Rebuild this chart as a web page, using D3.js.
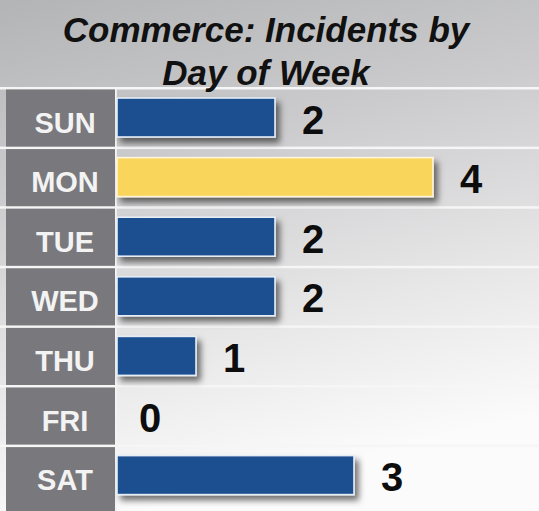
<!DOCTYPE html>
<html>
<head>
<meta charset="utf-8">
<script src="https://cdn.jsdelivr.net/npm/d3@7"></script>
<style>
  html, body { margin: 0; padding: 0; background: #ffffff; }
  svg { display: block; }
</style>
</head>
<body>
<script>
const days = ["SUN", "MON", "TUE", "WED", "THU", "FRI", "SAT"];
const incidents = [2, 4, 2, 2, 1, 0, 3];
const highlightDay = "MON";
const titleLines = ["Commerce: Incidents by", "Day of Week"];

const W = 539, H = 511;
const svg = d3.select("body").append("svg").attr("width", W).attr("height", H);
const defs = svg.append("defs");

const bg = defs.append("linearGradient").attr("id", "bg")
  .attr("x1", "0").attr("y1", "0").attr("x2", "0.25").attr("y2", "1");
bg.append("stop").attr("offset", "0%").attr("stop-color", "#b3b4b6");
bg.append("stop").attr("offset", "35%").attr("stop-color", "#cbcbcd");
bg.append("stop").attr("offset", "70%").attr("stop-color", "#e6e6e7");
bg.append("stop").attr("offset", "100%").attr("stop-color", "#fbfbfb");

const sh = defs.append("filter").attr("id", "shadow")
  .attr("x", "-10%").attr("y", "-30%").attr("width", "130%").attr("height", "190%");
sh.append("feDropShadow").attr("dx", 4).attr("dy", 5).attr("stdDeviation", 3)
  .attr("flood-color", "#000").attr("flood-opacity", 0.55);

svg.append("rect").attr("width", W).attr("height", H).attr("fill", "url(#bg)");

// Scales
const y = d3.scaleBand().domain(days).range([89, 89 + 7 * 59.6]).paddingInner(0).paddingOuter(0);
const x = d3.scaleLinear().domain([0, 4]).range([117, 433]);

const rowTop = d => y(d);
const rowH = y.bandwidth();

// row separators (white lines)
svg.append("g").selectAll("rect").data(days).join("rect")
  .attr("x", 0).attr("y", d => rowTop(d) - 2).attr("width", W).attr("height", 2.5)
  .attr("fill", "#f6f6f6");

// label boxes
svg.append("g").selectAll("rect").data(days).join("rect")
  .attr("x", 6).attr("y", d => rowTop(d) + 0.5)
  .attr("width", 109)
  .attr("height", (d, i) => i === days.length - 1 ? H - rowTop(d) : rowH - 2.5)
  .attr("fill", "#79797d");

// vertical separator line between labels and bars
svg.append("rect").attr("x", 115).attr("y", 87).attr("width", 1.8).attr("height", H - 87)
  .attr("fill", "#f4f4f4");

// Title
svg.append("g").selectAll("text").data(titleLines).join("text")
  .attr("x", 266).attr("y", (d, i) => 42 + i * 43)
  .attr("text-anchor", "middle")
  .attr("font-family", "'Liberation Sans', Arial, sans-serif")
  .attr("font-weight", "bold").attr("font-style", "italic")
  .attr("font-size", 35).attr("fill", "#111")
  .text(d => d);

svg.append("g").selectAll("text").data(days).join("text")
  .attr("x", 65).attr("y", d => rowTop(d) + 9 + 19.5 + 15)
  .attr("text-anchor", "middle")
  .attr("font-family", "'Liberation Sans', Arial, sans-serif")
  .attr("font-weight", "bold").attr("font-size", 29)
  .attr("fill", "#f3f3f3")
  .text(d => d);

// bars
const data = days.map((d, i) => ({ day: d, v: incidents[i] }));
const barH = 39;
svg.append("g").selectAll("rect").data(data.filter(d => d.v > 0)).join("rect")
  .attr("x", x(0)).attr("y", d => rowTop(d.day) + 9)
  .attr("width", d => x(d.v) - x(0)).attr("height", barH)
  .attr("fill", d => d.day === highlightDay ? "#f9d55b" : "#1b4f8f")
  .attr("stroke", d => d.day === highlightDay ? "#fff6dc" : "#e6edf5")
  .attr("stroke-width", 1.6)
  .attr("filter", "url(#shadow)");

// value labels
svg.append("g").selectAll("text").data(data).join("text")
  .attr("x", d => x(d.v) + (d.v > 0 ? 27 : 22))
  .attr("y", d => rowTop(d.day) + 9 + barH / 2 + 16)
  .attr("font-family", "'Liberation Sans', Arial, sans-serif")
  .attr("font-weight", "bold").attr("font-size", 40)
  .attr("fill", "#0d0d0d")
  .text(d => d.v);
</script>
</body>
</html>
